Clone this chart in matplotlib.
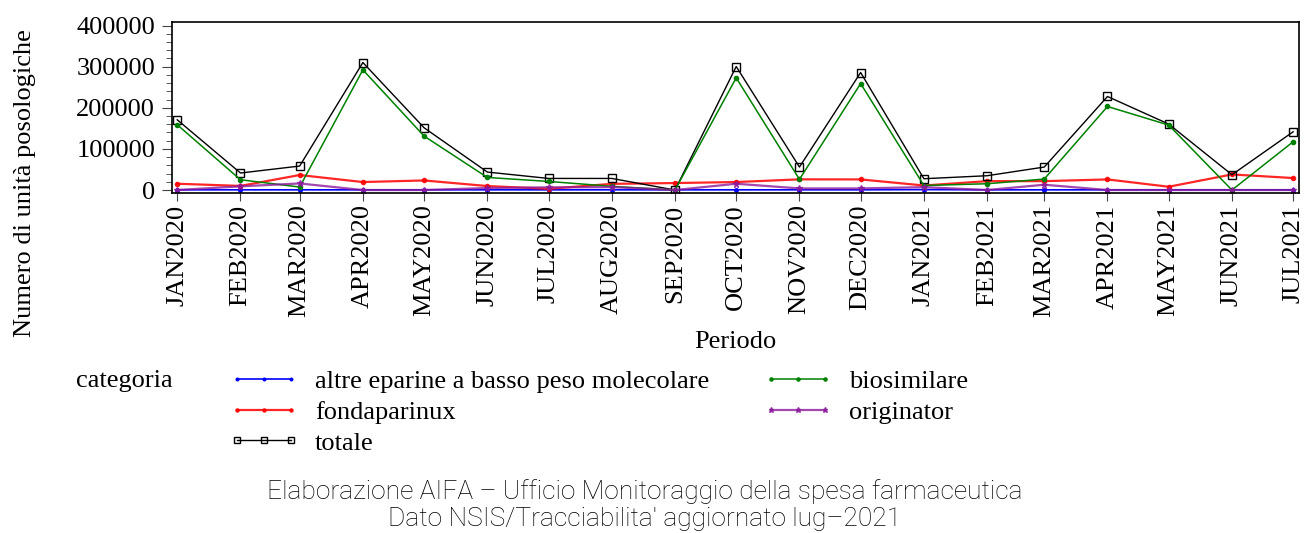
import numpy as np
import matplotlib
matplotlib.use("Agg")
import matplotlib.pyplot as plt
import matplotlib.dates as mdates
import pandas as pd
from matplotlib.ticker import MultipleLocator

# Periodi (mesi) e valori
mesi = ["JAN2020", "FEB2020", "MAR2020", "APR2020", "MAY2020", "JUN2020",
        "JUL2020", "AUG2020", "SEP2020", "OCT2020", "NOV2020", "DEC2020",
        "JAN2021", "FEB2021", "MAR2021", "APR2021", "MAY2021", "JUN2021",
        "JUL2021"]

altre = [500, 500, 500, 500, 500, 500, 500, 500, 500, 500, 500, 500,
         1000, 500, 500, 500, 500, 500, 500]
biosimilare = [158700, 25000, 7300, 292300, 131200, 30600, 20900, 9000, 0,
               272900, 26000, 259000, 11000, 15300, 26700, 203200, 158000,
               0, 117400]
fondaparinux = [15300, 10000, 36500, 19400, 23300, 9700, 3000, 15000, 17000,
                19400, 26000, 25800, 11000, 21600, 21600, 25800, 8000, 37900,
                29200]
originator = [0, 9000, 16000, 0, 0, 4900, 6500, 7000, 0, 15300, 3900, 3900,
              7000, 0, 12900, 0, 0, 0, 0]
totale = [170800, 41400, 58300, 310100, 151400, 43700, 28200, 28200, 0,
          300400, 55900, 285800, 27500, 34800, 55900, 227500, 160400, 37200,
          141700]

date = pd.to_datetime([m.title() for m in mesi], format="%b%Y")

plt.rcParams["font.family"] = ["Liberation Serif", "DejaVu Serif"]

fig = plt.figure(figsize=(13.05, 5.33), dpi=100)
ax = fig.add_axes([0.1316, 0.6373, 0.864, 0.3209])

ax.plot(date, altre, color="#0000ff", lw=1.2, marker="o", ms=2.5,
        label="altre eparine a basso peso molecolare")
ax.plot(date, fondaparinux, color="#ff0000", lw=1.6, alpha=0.85, marker="o",
        ms=3, label="fondaparinux")
ax.plot(date, totale, color="black", lw=1, marker="s", ms=6, mfc="none",
        mew=1, label="totale")
ax.plot(date, biosimilare, color="#008000", lw=1.1, marker="o", ms=3,
        label="biosimilare")
ax.plot(date, originator, color="#8b1a9b", lw=1.6, alpha=0.8, marker="*",
        ms=5, label="originator")

ax.set_xlim(date[0] - pd.Timedelta(days=2.7), date[-1] + pd.Timedelta(days=3))
ax.set_ylim(-8000, 408000)
ax.set_xticks(date)
ax.set_xticklabels(mesi, rotation=90, fontsize=19)
ax.yaxis.set_major_locator(MultipleLocator(100000))
ax.yaxis.set_minor_locator(MultipleLocator(20000))
ax.tick_params(axis="y", which="major", length=7, labelsize=19, pad=5,
               color="#444444")
ax.tick_params(axis="y", which="minor", length=4, color="#444444")
ax.tick_params(axis="x", length=6, pad=2, color="#444444")
ax.xaxis.set_minor_locator(plt.NullLocator())
for s in ax.spines.values():
    s.set_linewidth(1.2)

fig.text(25 / 1305, 1 - 183 / 533, "Numero di unità posologiche",
         rotation=90, fontsize=19, ha="center", va="center")
fig.text(735 / 1305, 1 - 342 / 533, "Periodo", fontsize=19,
         ha="center", va="center")
fig.text(76 / 1305, 1 - 381 / 533, "categoria", fontsize=19,
         ha="left", va="center")

leg = fig.legend(loc="upper left", bbox_to_anchor=(229 / 1305, 1 - 370 / 533),
                 ncol=2, frameon=False, fontsize=19, numpoints=3,
                 handlelength=2.65, handletextpad=0.6, columnspacing=2.05,
                 labelspacing=0.27, borderpad=0, borderaxespad=0)
for h in leg.legend_handles:
    h.set_markersize(h.get_markersize() * 0.75)

fig.text(645 / 1305, 1 - 492 / 533,
         "Elaborazione AIFA \u2013 Ufficio Monitoraggio della spesa farmaceutica",
         family=["Roboto", "DejaVu Sans"], fontweight="light", fontsize=19,
         color="black", ha="center", va="center")
fig.text(645 / 1305, 1 - 519 / 533,
         "Dato NSIS/Tracciabilita' aggiornato lug\u20132021",
         family=["Roboto", "DejaVu Sans"], fontweight="light", fontsize=19,
         color="black", ha="center", va="center")

fig.savefig("out.png", dpi=100)
